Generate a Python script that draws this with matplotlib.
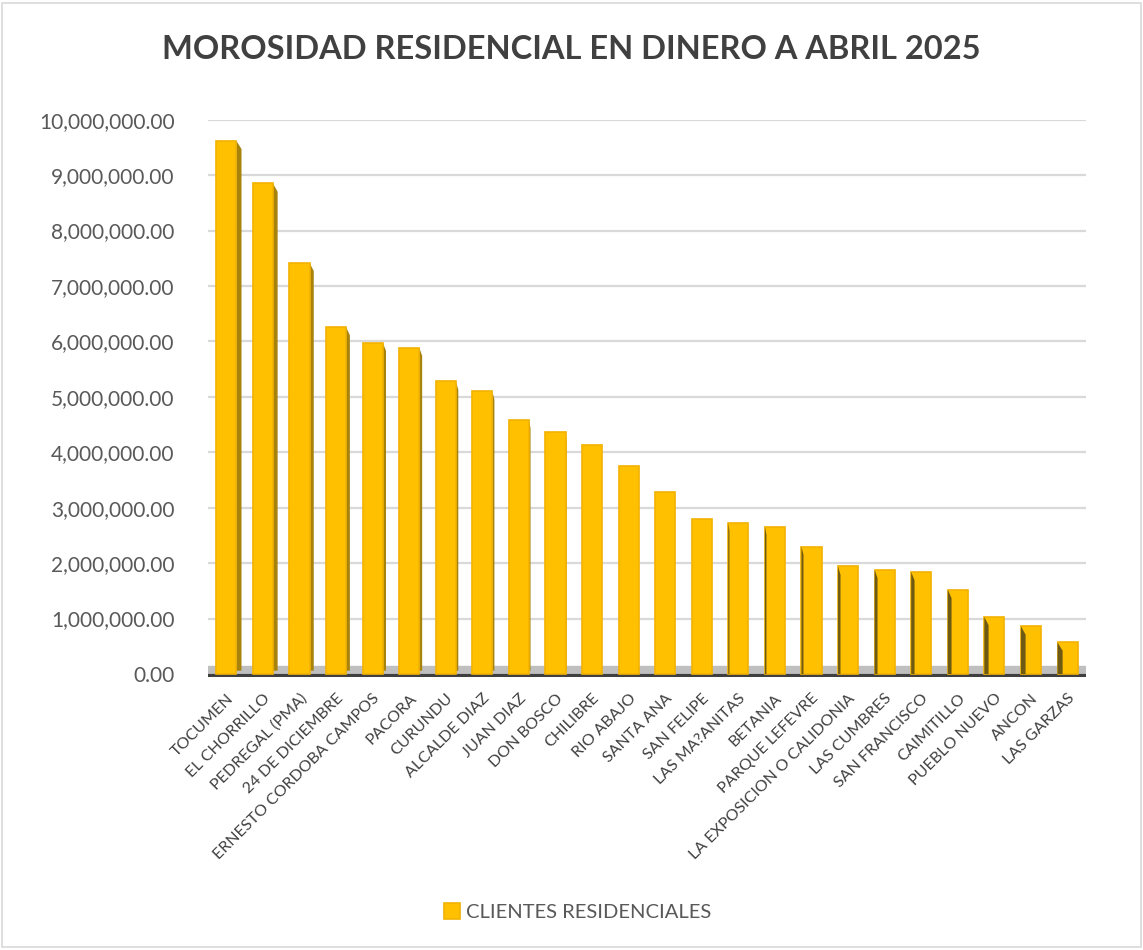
import matplotlib.pyplot as plt
import matplotlib
from matplotlib.patches import Rectangle
from matplotlib.ticker import FuncFormatter
import numpy as np

matplotlib.rcParams["font.family"] = ["Lato", "DejaVu Sans"]

TITLE = "MOROSIDAD RESIDENCIAL EN DINERO A ABRIL 2025"
SERIES = "CLIENTES RESIDENCIALES"
barrios = ["TOCUMEN", "EL CHORRILLO", "PEDREGAL (PMA)", "24 DE DICIEMBRE",
           "ERNESTO CORDOBA CAMPOS", "PACORA", "CURUNDU", "ALCALDE DIAZ",
           "JUAN DIAZ", "DON BOSCO", "CHILIBRE", "RIO ABAJO", "SANTA ANA",
           "SAN FELIPE", "LAS MA?ANITAS", "BETANIA", "PARQUE LEFEVRE",
           "LA EXPOSICION O CALIDONIA", "LAS CUMBRES", "SAN FRANCISCO",
           "CAIMITILLO", "PUEBLO NUEVO", "ANCON", "LAS GARZAS"]
morosidad = [9620000, 8850000, 7420000, 6260000, 5980000, 5890000, 5280000,
             5100000, 4580000, 4360000, 4140000, 3750000, 3280000, 2800000,
             2730000, 2660000, 2300000, 1940000, 1880000, 1840000, 1520000,
             1030000, 860000, 570000]
yticks = np.arange(0, 10000001, 1000000)

GOLD = "#FFC000"
GOLD_EDGE = "#F2B200"
SIDE_R = "#A8830C"
SIDE_L = "#6E5A14"
TXT = "#595959"

fig = plt.figure(figsize=(11.43, 9.5), dpi=100)
fig.patches.append(Rectangle((0.002, 0.003), 0.996, 0.994, transform=fig.transFigure,
                             fill=False, edgecolor="#D9D9D9", lw=1.2))

ax = fig.add_axes([0.182, 0.287, 0.768, 0.587])
x = np.arange(len(barrios))
w = 0.55

ax.set_xlim(-0.5, len(barrios) - 0.5)
ax.set_ylim(-60000, 10000000)

# gridlines + floor
for t in yticks[1:]:
    ax.axhline(t, color="#D9D9D9", lw=1.6, zorder=0)
ax.axhspan(-60000, 150000, color="#BFBFBF", zorder=1)
ax.axhline(-40000, color="#404040", lw=3, zorder=1)

ax.bar(x, morosidad, width=w, bottom=0, color=GOLD, edgecolor=GOLD_EDGE,
       linewidth=1.2, zorder=3, label=SERIES)

# side faces (perspective look)
for i, v in enumerate(morosidad):
    d = 0.14 * (11.5 - i) / 11.5
    if abs(d) < 0.025:
        continue
    if d > 0:
        x0 = x[i] + w / 2
        xs = [x0, x0 + d, x0 + d, x0]
        ys = [60000, 60000, v - 150000, v]
        ax.fill(xs, ys, color=SIDE_R, zorder=2, lw=0)
    else:
        x0 = x[i] - w / 2
        xs = [x0, x0 + abs(d), x0 + abs(d), x0]
        ys = [0, 0, v - 150000, v]
        ax.fill(xs, ys, color=SIDE_L, zorder=4, lw=0)

ax.set_yticks(yticks)
ax.yaxis.set_major_formatter(FuncFormatter(lambda v, p: f"{v:,.2f}"))
ax.tick_params(axis="y", length=0, pad=24, labelsize=15, labelcolor=TXT)
ax.set_xticks(x)
ax.set_xticklabels(barrios, rotation=45, ha="right", rotation_mode="anchor",
                   fontsize=11.5, color="#404040")
ax.tick_params(axis="x", length=0, pad=10)
for s in ax.spines.values():
    s.set_visible(False)

fig.text(0.5, 0.948, TITLE, ha="center", va="center", fontsize=23.5,
         fontweight="bold", color="#404040")

fig.legend(loc="center", bbox_to_anchor=(0.505, 0.04), frameon=False,
           fontsize=14.5, handlelength=0.8, handleheight=0.8, handletextpad=0.3,
           labelcolor=TXT)

fig.savefig("out.png", dpi=100)
